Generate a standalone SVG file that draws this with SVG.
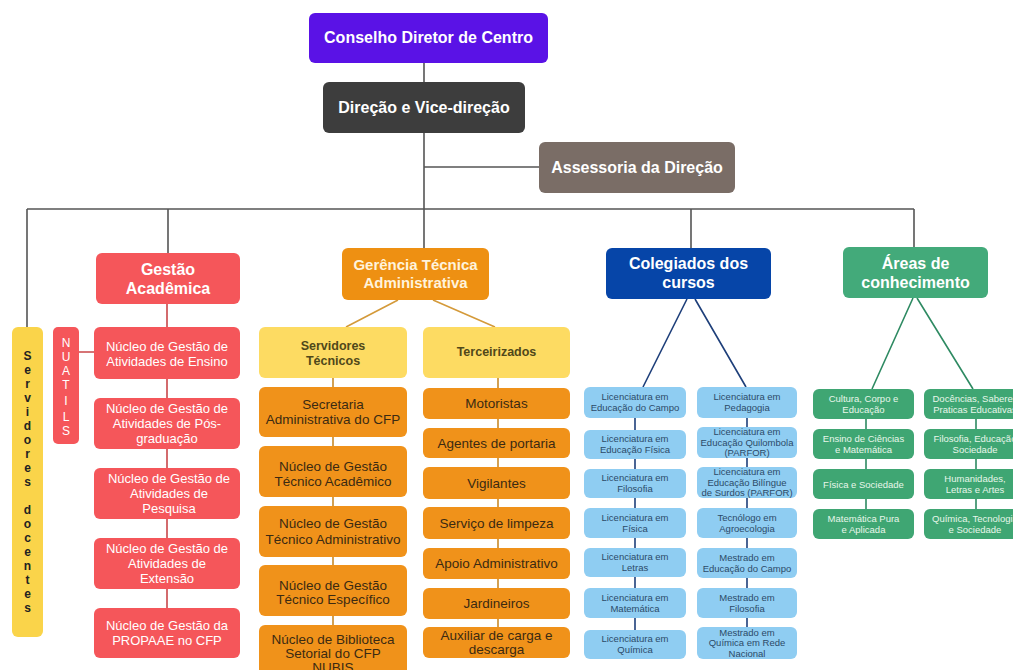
<svg xmlns="http://www.w3.org/2000/svg" width="1013" height="670" viewBox="0 0 1013 670">
<style>
text{font-family:"Liberation Sans",Arial,sans-serif;text-anchor:middle}
.hd{font-weight:bold;font-size:16px;fill:#fff}
.red rect{fill:#f5565a}
.red text{font-size:13px;fill:#fff}
.org rect{fill:#f0921a}
.org text{font-size:13.5px;fill:#3b2a12}
.yel rect{fill:#fddb62}
.yel text{font-size:12.5px;font-weight:bold;fill:#50481a}
.blu rect{fill:#8fcdf2}
.blu text{font-size:9.5px;fill:#2c4a68}
.grn rect{fill:#3fa673}
.grn text{font-size:9.5px;fill:#e8f6ea}
.ln{fill:none;stroke-width:1.6}
</style>
<rect width="1013" height="670" fill="#fff"/>
<g id="connectors">
<path class="ln" stroke="#555" d="M424 63V82M424 133V248M424 167H539M27 209H914M27 209V327M168 209V253M691 209V248M914 209V247"/>
<path class="ln" stroke="#c9474a" d="M167 304V608M79 352H94"/>
<path class="ln" stroke="#d49a3a" d="M398 300L346 327M433 300L495 327"/>
<path class="ln" stroke="#c88a2a" d="M333 378V640M498 378V627"/>
<path class="ln" stroke="#1e3f7a" d="M687 299L643 387M695 299L746 387M635 418V630M747 418V627"/>
<path class="ln" stroke="#2e8a62" d="M913 298L872 389M917 298L973 389M866 419V509M976 419V509"/>
</g>
<g id="conselho"><rect x="309" y="13" width="239" height="50" rx="6" fill="#5a12e6"/><text class="hd" x="428.5" y="43">Conselho Diretor de Centro</text></g>
<g id="direcao"><rect x="323" y="82" width="202" height="51" rx="6" fill="#3d3d3d"/><text class="hd" x="424" y="113">Direção e Vice-direção</text></g>
<g id="assessoria"><rect x="539" y="142" width="196" height="51" rx="6" fill="#7a6d66"/><text class="hd" x="637" y="173">Assessoria da Direção</text></g>
<g id="gestao"><rect x="96" y="253" width="144" height="51" rx="6" fill="#f5565a"/><text class="hd" x="168" y="275">Gestão</text><text class="hd" x="168" y="294">Acadêmica</text></g>
<g id="gerencia"><rect x="342" y="248" width="147" height="52" rx="6" fill="#ee9012"/><text class="hd" style="font-size:15px;fill:#fff3dc" x="415.5" y="270">Gerência Técnica</text><text class="hd" style="font-size:15px;fill:#fff3dc" x="415.5" y="288">Administrativa</text></g>
<g id="colegiados"><rect x="606" y="248" width="165" height="51" rx="6" fill="#0645a8"/><text class="hd" x="688.5" y="269">Colegiados dos</text><text class="hd" x="688.5" y="288">cursos</text></g>
<g id="areas"><rect x="843" y="247" width="145" height="51" rx="6" fill="#43aa7a"/><text class="hd" x="915.5" y="269">Áreas de</text><text class="hd" x="915.5" y="288">conhecimento</text></g>
<g id="servidores-docentes"><rect x="12" y="327" width="31" height="310" rx="6" fill="#fad44a"/>
<text style="font-size:12px;font-weight:bold;fill:#222"><tspan x="27.5" y="360">S</tspan><tspan x="27.5" y="374">e</tspan><tspan x="27.5" y="388">r</tspan><tspan x="27.5" y="402">v</tspan><tspan x="27.5" y="416">i</tspan><tspan x="27.5" y="430">d</tspan><tspan x="27.5" y="444">o</tspan><tspan x="27.5" y="458">r</tspan><tspan x="27.5" y="472">e</tspan><tspan x="27.5" y="486">s</tspan><tspan x="27.5" y="514">d</tspan><tspan x="27.5" y="528">o</tspan><tspan x="27.5" y="542">c</tspan><tspan x="27.5" y="556">e</tspan><tspan x="27.5" y="570">n</tspan><tspan x="27.5" y="584">t</tspan><tspan x="27.5" y="598">e</tspan><tspan x="27.5" y="612">s</tspan></text></g>
<g id="nuatils" class="red"><rect x="53" y="327" width="26" height="117" rx="5"/>
<text style="font-size:12px"><tspan x="66" y="347">N</tspan><tspan x="66" y="361">U</tspan><tspan x="66" y="375">A</tspan><tspan x="66" y="389">T</tspan><tspan x="66" y="405">I</tspan><tspan x="66" y="421">L</tspan><tspan x="66" y="435">S</tspan></text></g>
<g id="ng-ensino" class="red"><rect x="94" y="327" width="146" height="52" rx="6"/><text x="167" y="351">Núcleo de Gestão de</text><text x="167" y="366">Atividades de Ensino</text></g>
<g id="ng-pos" class="red"><rect x="94" y="398" width="146" height="51" rx="6"/><text x="167" y="413">Núcleo de Gestão de</text><text x="167" y="428">Atividades de Pós-</text><text x="167" y="443">graduação</text></g>
<g id="ng-pesquisa" class="red"><rect x="94" y="468" width="146" height="51" rx="6"/><text x="169" y="483">Núcleo de Gestão de</text><text x="169" y="498">Atividades de</text><text x="169" y="513">Pesquisa</text></g>
<g id="ng-extensao" class="red"><rect x="94" y="538" width="146" height="51" rx="6"/><text x="167" y="553">Núcleo de Gestão de</text><text x="167" y="568">Atividades de</text><text x="167" y="583">Extensão</text></g>
<g id="ng-propaae" class="red"><rect x="94" y="608" width="146" height="50" rx="6"/><text x="167" y="630">Núcleo de Gestão da</text><text x="167" y="645">PROPAAE no CFP</text></g>
<g id="servidores-tecnicos" class="yel"><rect x="259" y="327" width="148" height="51" rx="6"/><text x="333" y="350">Servidores</text><text x="333" y="365">Técnicos</text></g>
<g id="terceirizados" class="yel"><rect x="423" y="327" width="147" height="51" rx="6"/><text x="496.5" y="356">Terceirizados</text></g>
<g id="secretaria" class="org"><rect x="259" y="387" width="148" height="50" rx="6"/><text x="333" y="409">Secretaria</text><text x="333" y="424">Administrativa do CFP</text></g>
<g id="ng-academico" class="org"><rect x="259" y="446" width="148" height="51" rx="6"/><text x="333" y="471">Núcleo de Gestão</text><text x="333" y="486">Técnico Acadêmico</text></g>
<g id="ng-administrativo" class="org"><rect x="259" y="506" width="148" height="51" rx="6"/><text x="333" y="528">Núcleo de Gestão</text><text x="333" y="544">Técnico Administrativo</text></g>
<g id="ng-especifico" class="org"><rect x="259" y="565" width="148" height="51" rx="6"/><text x="333" y="590">Núcleo de Gestão</text><text x="333" y="604">Técnico Específico</text></g>
<g id="nubis" class="org"><rect x="259" y="625" width="148" height="60" rx="6"/><text x="333" y="644">Núcleo de Biblioteca</text><text x="333" y="658">Setorial do CFP</text><text x="333" y="672">NUBIS</text></g>
<g id="motoristas" class="org"><rect x="423" y="388" width="147" height="31" rx="6"/><text x="496.5" y="408">Motoristas</text></g>
<g id="portaria" class="org"><rect x="423" y="428" width="147" height="30" rx="6"/><text x="496.5" y="447.5">Agentes de portaria</text></g>
<g id="vigilantes" class="org"><rect x="423" y="467" width="147" height="32" rx="6"/><text x="496.5" y="487.5">Vigilantes</text></g>
<g id="limpeza" class="org"><rect x="423" y="507" width="147" height="32" rx="6"/><text x="496.5" y="527.5">Serviço de limpeza</text></g>
<g id="apoio" class="org"><rect x="423" y="548" width="147" height="31" rx="6"/><text x="496.5" y="568">Apoio Administrativo</text></g>
<g id="jardineiros" class="org"><rect x="423" y="588" width="147" height="31" rx="6"/><text x="496.5" y="608">Jardineiros</text></g>
<g id="auxiliar" class="org"><rect x="423" y="627" width="147" height="31" rx="6"/><text x="496.5" y="640">Auxiliar de carga e</text><text x="496.5" y="654">descarga</text></g>
<g id="lic-campo" class="blu"><rect x="584" y="387" width="102" height="31" rx="6"/><text x="635" y="400">Licenciatura em</text><text x="635" y="411">Educação do Campo</text></g>
<g id="lic-edfisica" class="blu"><rect x="584" y="430" width="102" height="29" rx="6"/><text x="635" y="442">Licenciatura em</text><text x="635" y="453">Educação Física</text></g>
<g id="lic-filosofia" class="blu"><rect x="584" y="469" width="102" height="29" rx="6"/><text x="635" y="481">Licenciatura em</text><text x="635" y="492">Filosofia</text></g>
<g id="lic-fisica" class="blu"><rect x="584" y="508" width="102" height="30" rx="6"/><text x="635" y="520.5">Licenciatura em</text><text x="635" y="531.5">Física</text></g>
<g id="lic-letras" class="blu"><rect x="584" y="548" width="102" height="29" rx="6"/><text x="635" y="560">Licenciatura em</text><text x="635" y="571">Letras</text></g>
<g id="lic-matematica" class="blu"><rect x="584" y="588" width="102" height="30" rx="6"/><text x="635" y="600.5">Licenciatura em</text><text x="635" y="611.5">Matemática</text></g>
<g id="lic-quimica" class="blu"><rect x="584" y="630" width="102" height="29" rx="6"/><text x="635" y="642">Licenciatura em</text><text x="635" y="653">Química</text></g>
<g id="lic-pedagogia" class="blu"><rect x="697" y="387" width="100" height="31" rx="6"/><text x="747" y="400">Licenciatura em</text><text x="747" y="411">Pedagogia</text></g>
<g id="lic-quilombola" class="blu"><rect x="697" y="427" width="100" height="31" rx="6"/><text x="747" y="435">Licenciatura em</text><text x="747" y="445.5">Educação Quilombola</text><text x="747" y="456">(PARFOR)</text></g>
<g id="lic-bilingue" class="blu"><rect x="697" y="467" width="100" height="31" rx="6"/><text x="747" y="475">Licenciatura em</text><text x="747" y="485.5">Educação Bilíngue</text><text x="747" y="496">de Surdos (PARFOR)</text></g>
<g id="tec-agroecologia" class="blu"><rect x="697" y="508" width="100" height="30" rx="6"/><text x="747" y="520.5">Tecnólogo em</text><text x="747" y="531.5">Agroecologia</text></g>
<g id="mest-campo" class="blu"><rect x="697" y="548" width="100" height="30" rx="6"/><text x="747" y="560.5">Mestrado em</text><text x="747" y="571.5">Educação do Campo</text></g>
<g id="mest-filosofia" class="blu"><rect x="697" y="588" width="100" height="30" rx="6"/><text x="747" y="600.5">Mestrado em</text><text x="747" y="611.5">Filosofia</text></g>
<g id="mest-quimica" class="blu"><rect x="697" y="627" width="100" height="32" rx="6"/><text x="747" y="635.5">Mestrado em</text><text x="747" y="646">Química em Rede</text><text x="747" y="656.5">Nacional</text></g>
<g id="area-cultura" class="grn"><rect x="813" y="389" width="101" height="30" rx="6"/><text x="863.5" y="401.5">Cultura, Corpo e</text><text x="863.5" y="412.5">Educação</text></g>
<g id="area-ensino" class="grn"><rect x="813" y="429" width="101" height="30" rx="6"/><text x="863.5" y="441.5">Ensino de Ciências</text><text x="863.5" y="452.5">e Matemática</text></g>
<g id="area-fisica" class="grn"><rect x="813" y="469" width="101" height="30" rx="6"/><text x="863.5" y="487.5">Física e Sociedade</text></g>
<g id="area-matematica" class="grn"><rect x="813" y="509" width="101" height="30" rx="6"/><text x="863.5" y="521.5">Matemática Pura</text><text x="863.5" y="532.5">e Aplicada</text></g>
<g id="area-docencias" class="grn"><rect x="924" y="389" width="102" height="30" rx="6"/><text x="975" y="401.5">Docências, Saberes</text><text x="975" y="412.5">Praticas Educativas</text></g>
<g id="area-filosofia" class="grn"><rect x="924" y="429" width="102" height="30" rx="6"/><text x="975" y="441.5">Filosofia, Educação</text><text x="975" y="452.5">Sociedade</text></g>
<g id="area-humanidades" class="grn"><rect x="924" y="469" width="102" height="30" rx="6"/><text x="975" y="481.5">Humanidades,</text><text x="975" y="492.5">Letras e Artes</text></g>
<g id="area-quimica" class="grn"><rect x="924" y="509" width="102" height="30" rx="6"/><text x="975" y="521.5">Química, Tecnologia</text><text x="975" y="532.5">e Sociedade</text></g>
</svg>
